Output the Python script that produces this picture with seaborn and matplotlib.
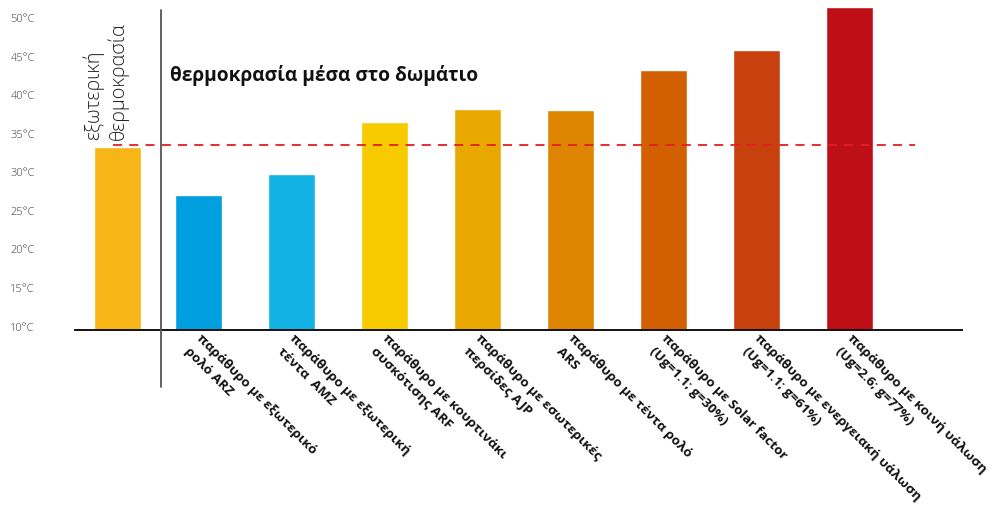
import matplotlib
matplotlib.use("Agg")
import matplotlib.pyplot as plt
import matplotlib.transforms as mtransforms
import seaborn as sns
import pandas as pd

categories = ["εξωτερική θερμοκρασία", "ARZ", "AMZ", "ARF", "AJP", "ARS",
              "Solar factor", "ενεργειακή υάλωση", "κοινή υάλωση"]
values = [33.3, 27.1, 29.8, 36.55, 38.2, 38.1, 43.3, 45.9, 51.5]
tick_labels = ["",
               "παράθυρο με εξωτερικό\nρολό ARZ",
               "παράθυρο με εξωτερική\nτέντα  AMZ",
               "παράθυρο με κουρτινάκι\nσυσκότισης ARF",
               "παράθυρο με εσωτερικές\nπερσίδες AJP",
               "παράθυρο με τέντα ρολό\nARS",
               "παράθυρο με Solar factor\n(Ug=1.1; g=30%)",
               "παράθυρο με ενεργειακή υάλωση\n(Ug=1.1; g=61%)",
               "παράθυρο με κοινή υάλωση\n(Ug=2.6; g=77%)"]
colors = ["#F8B616", "#009FDF", "#13B2E5", "#F7CB00", "#E9A800",
          "#DD8500", "#D26000", "#C8400E", "#BE0F17"]
outside_temp = 33.55
y_ticks = [10, 15, 20, 25, 30, 35, 40, 45, 50]
y_tick_labels = [f"{t}°C" for t in y_ticks]
annotation_outside = "εξωτερική\nθερμοκρασία"
title_inside = "θερμοκρασία μέσα στο δωμάτιο"

sns.set_style("white")
plt.rcParams["font.family"] = ["Open Sans", "DejaVu Sans"]

df = pd.DataFrame({"cat": categories, "val": values})

fig = plt.figure(figsize=(9.96, 5.13), dpi=100)
ax = fig.add_axes([75/996, 1 - 330/513, 887/996, 330/513])

sns.barplot(data=df, x="cat", y="val", hue="cat", palette=colors,
            legend=False, width=0.505, saturation=1, ax=ax)
# first bar sits slightly closer to the others
p0 = ax.patches[0]
p0.set_x(p0.get_x() + 0.13)

ax.set_xlim(-0.328, 9.21)
ax.set_ylim(9.55, 52.37)

for s in ["top", "right", "left"]:
    ax.spines[s].set_visible(False)
ax.spines["bottom"].set_color("#111111")
ax.spines["bottom"].set_linewidth(1.4)

ax.set_yticks(y_ticks)
ax.set_yticklabels(y_tick_labels, fontsize=8, color="#3a3a3a", fontweight="light")
ax.tick_params(axis="y", length=0, pad=29)

ax.set_xticks(range(len(categories)))
ax.set_xticklabels(tick_labels, rotation=-45, ha="left", va="top",
                   rotation_mode="anchor", fontsize=9.7, fontweight="bold",
                   color="#111111", linespacing=1.5)
ax.tick_params(axis="x", length=0, pad=3)
offset = mtransforms.ScaledTranslation(5/100, 2/100, fig.dpi_scale_trans)
for lab in ax.get_xticklabels():
    lab.set_transform(lab.get_transform() + offset)
ax.set_xlabel("")
ax.set_ylabel("")

# dashed outside-temperature line
ax.plot([0.08, 8.70], [outside_temp, outside_temp], ls=(0, (5, 4)),
        color="#E31E24", lw=1.3, zorder=3)

# separator line
ax.plot([0.6, 0.6], [51.1, 2.2], color="#555555", lw=1.3, clip_on=False, zorder=4)

ax.text(0.0, 34.2, annotation_outside, rotation=90, ha="center", va="bottom",
        fontsize=14.3, fontweight="light", color="#222222", linespacing=1.2,
        multialignment="left")
ax.text(0.69, 42.6, title_inside, ha="left", va="center", fontsize=13.8,
        fontweight="bold", color="#111111")

fig.savefig("out.png", dpi=100)
